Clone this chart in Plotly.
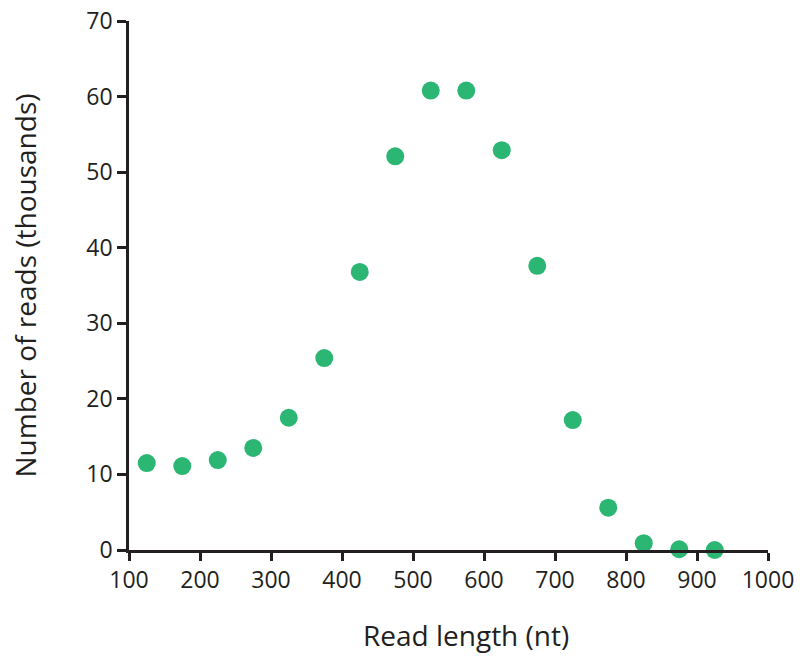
import plotly.graph_objects as go

read_length = [125, 175, 225, 275, 325, 375, 425, 475, 525, 575, 625, 675, 725, 775, 825, 875, 925]
reads_thousands = [11.5, 11.1, 11.9, 13.5, 17.5, 25.4, 36.8, 52.1, 60.8, 60.8, 52.9, 37.6, 17.2, 5.6, 0.9, 0.1, 0.0]

x_ticks = [100, 200, 300, 400, 500, 600, 700, 800, 900, 1000]
y_ticks = [0, 10, 20, 30, 40, 50, 60, 70]

x_title = "Read length (nt)"
y_title = "Number of reads (thousands)"

axis_color = "#231f20"
font_family = "Open Sans, Noto Sans, sans-serif"

fig = go.Figure(go.Scatter(
    x=read_length, y=reads_thousands, mode="markers",
    marker=dict(size=18, color="rgb(43,182,115)", line=dict(width=0)),
    cliponaxis=False,
))

fig.update_layout(
    width=800, height=660,
    margin=dict(l=129, r=32, t=21, b=110),
    plot_bgcolor="white", paper_bgcolor="white",
    showlegend=False,
    font=dict(family=font_family, size=23, color=axis_color),
)
fig.update_xaxes(
    range=[100, 1000], tickvals=x_ticks, showgrid=False, zeroline=False,
    showline=True, linecolor=axis_color, linewidth=2.5, automargin=False,
    ticks="outside", ticklen=8, tickwidth=2.5, tickcolor=axis_color,
    tickfont=dict(size=23),
)
fig.update_yaxes(
    range=[0, 70], tickvals=y_ticks, showgrid=False, zeroline=False,
    showline=True, linecolor=axis_color, linewidth=2.5, automargin=False,
    ticks="outside", ticklen=9, tickwidth=2.5, tickcolor=axis_color,
    tickfont=dict(size=23),
    title=dict(text=y_title, font=dict(size=28), standoff=42),
)
fig.add_annotation(
    text=x_title, xref="paper", yref="paper", x=0.527, y=-0.161,
    xanchor="center", yanchor="middle", showarrow=False,
    font=dict(size=28, family=font_family, color=axis_color),
)

fig.write_html("out.html")
